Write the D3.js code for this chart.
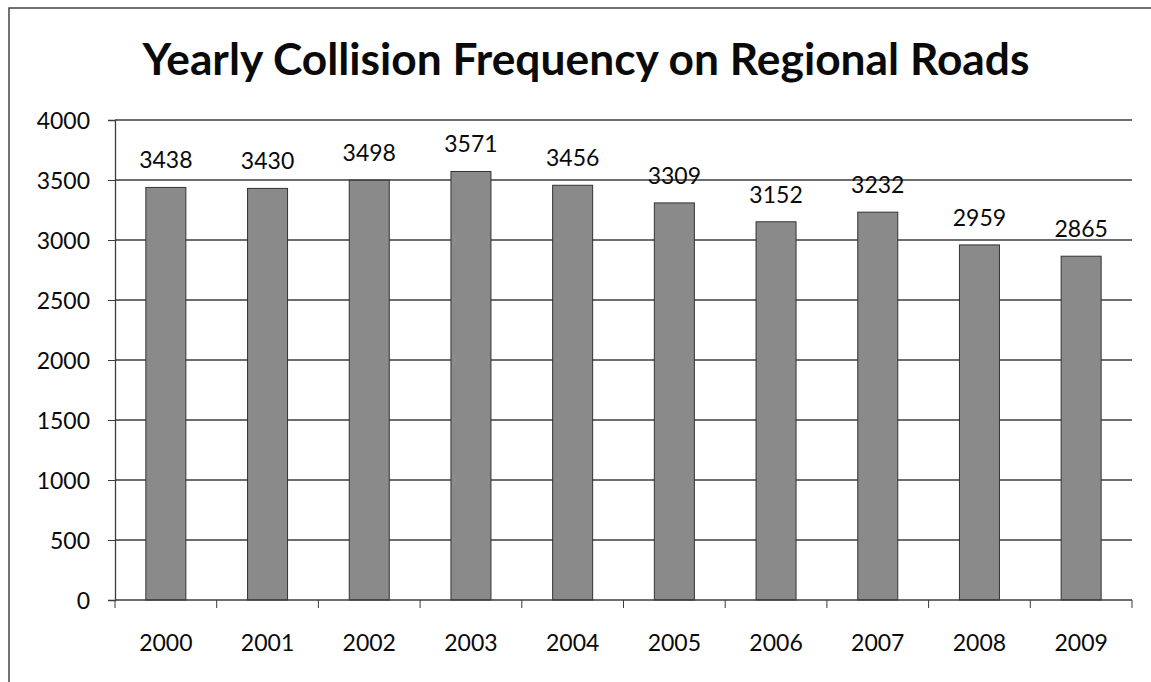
<!DOCTYPE html>
<html>
<head>
<meta charset="utf-8">
<style>
    body { margin: 0; background: #fff; }
    svg { display: block; }
    .label { font-family: Lato, 'Open Sans', sans-serif; font-size: 23px; fill: #0a0a0a; }
    .title { font-family: Lato, 'Open Sans', sans-serif; font-weight: bold; font-size: 44px; fill: #0a0a0a; }
</style>
</head>
<body>
<svg width="1151" height="682"></svg>

<script src="https://d3js.org/d3.v7.min.js"></script>
<script>
    // values
    let years = ["2000", "2001", "2002", "2003", "2004", "2005", "2006", "2007", "2008", "2009"]
    let collisions = [3438, 3430, 3498, 3571, 3456, 3309, 3152, 3232, 2959, 2865]
    let yTicks = [0, 500, 1000, 1500, 2000, 2500, 3000, 3500, 4000]

    let svg = d3.select("svg")

    // chart frame (only left and top edges show in the scan)
    svg.append("rect")
        .attr("x", 9).attr("y", 8)
        .attr("width", 1300).attr("height", 800)
        .style("fill", "none")
        .style("stroke", "#444")
        .style("stroke-width", 1.5)

    let plotLeft = 115, plotRight = 1132, plotTop = 120, plotBottom = 600

    let xCat = d3.scaleBand().domain(years).range([plotLeft, plotRight])

    let y = d3.scaleLinear()
        .domain([0, 4000])
        .range([plotBottom, plotTop])

    // gridlines
    svg.selectAll(".grid")
        .data(yTicks.filter(d => d > 0))
        .join("line")
        .attr("x1", plotLeft).attr("x2", plotRight)
        .attr("y1", d => y(d)).attr("y2", d => y(d))
        .style("stroke", "#3c3c3c")
        .style("stroke-width", 1.3)

    // y axis
    let yAxis = svg.append("g")
        .attr("transform", `translate(${plotLeft},0)`)
        .call(d3.axisLeft(y).tickValues(yTicks).tickSize(7).tickPadding(18).tickFormat(d3.format("d")))
    yAxis.select(".domain").style("stroke", "#3c3c3c").style("stroke-width", 1.3)
    yAxis.selectAll(".tick line").style("stroke", "#3c3c3c")
    yAxis.selectAll("text").attr("class", "label").attr("dy", "0.35em")

    // bars
    svg.selectAll(".bar")
        .data(collisions)
        .join("rect")
        .attr("x", (d, i) => xCat(years[i]) + xCat.bandwidth() / 2 - 20)
        .attr("width", 40)
        .attr("y", d => y(d))
        .attr("height", d => y(0) - y(d))
        .style("fill", "#8a8a8a")
        .style("stroke", "#333")
        .style("stroke-width", 1)

    // x axis with ticks at category edges
    svg.append("line")
        .attr("x1", plotLeft).attr("x2", plotRight)
        .attr("y1", plotBottom).attr("y2", plotBottom)
        .style("stroke", "#3c3c3c").style("stroke-width", 1.3)

    svg.selectAll(".xtick")
        .data(d3.range(years.length + 1))
        .join("line")
        .attr("x1", i => plotLeft + i * xCat.bandwidth())
        .attr("x2", i => plotLeft + i * xCat.bandwidth())
        .attr("y1", plotBottom).attr("y2", plotBottom + 8)
        .style("stroke", "#3c3c3c")

    svg.selectAll(".xlab")
        .data(years)
        .join("text")
        .attr("class", "label")
        .attr("x", d => xCat(d) + xCat.bandwidth() / 2)
        .attr("y", 651)
        .attr("text-anchor", "middle")
        .text(d => d)

    // value labels
    svg.selectAll(".val")
        .data(collisions)
        .join("text")
        .attr("class", "label")
        .attr("x", (d, i) => xCat(years[i]) + xCat.bandwidth() / 2)
        .attr("y", d => y(d) - 19)
        .attr("text-anchor", "middle")
        .text(d => d)

    // title
    let title = svg.append("text")
        .attr("class", "title")
        .attr("x", 586)
        .attr("y", 75)
        .attr("text-anchor", "middle")
        .text("Yearly Collision Frequency on Regional Roads")

    let w = title.node().getComputedTextLength()
    if (Math.abs(w - 887) > 5) {
        title.attr("textLength", 887).attr("lengthAdjust", "spacingAndGlyphs")
    }
</script>
</body>
</html>
